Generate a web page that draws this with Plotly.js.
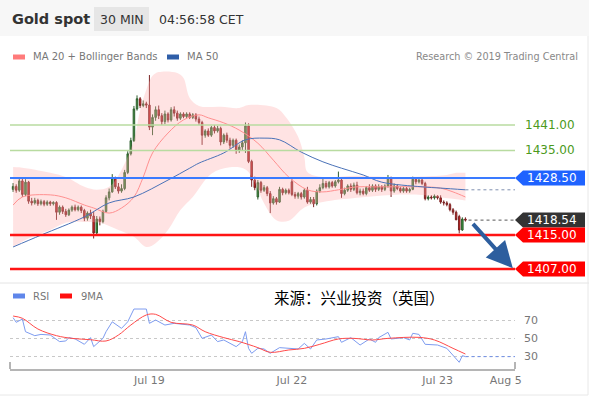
<!DOCTYPE html>
<html><head><meta charset="utf-8">
<script src="https://cdn.plot.ly/plotly-3.0.1.min.js"></script>
<style>html,body{margin:0;padding:0;background:#fff;}#chart{width:589px;height:396px;}</style>
</head><body><div id="chart"></div>
<script>
const W = 589, H = 396;

// ---- candle data (30 min, index positions) ----
const open  = [1425.8,1426.5,1425.6,1427.8,1424.6,1427.5,1423.0,1422.6,1423.2,1422.4,1422.9,1422.3,1422.8,1422.4,1422.7,1420.4,1421.6,1420.6,1419.8,1420.9,1421.6,1421.0,1421.6,1420.8,1419.0,1420.2,1419.5,1415.5,1418.8,1418.2,1420.6,1423.8,1425.2,1428.5,1426.4,1425.4,1426.0,1429.8,1434.2,1437.3,1444.8,1447.2,1445.6,1446.0,1445.7,1440.5,1442.8,1444.6,1443.2,1441.8,1443.6,1442.2,1444.6,1443.8,1442.6,1443.6,1443.0,1443.6,1442.8,1443.4,1442.4,1441.6,1438.6,1439.6,1438.6,1440.4,1439.6,1440.2,1437.0,1438.6,1437.4,1436.2,1437.4,1435.0,1435.8,1436.8,1440.8,1432.4,1428.0,1424.0,1427.4,1425.6,1426.2,1424.8,1422.6,1423.6,1422.8,1425.8,1425.0,1425.6,1427.6,1424.6,1424.2,1424.8,1424.0,1425.6,1422.8,1423.4,1422.4,1425.4,1426.2,1427.2,1426.4,1427.4,1426.6,1427.6,1428.0,1424.8,1425.6,1426.6,1425.8,1426.8,1425.0,1425.4,1424.8,1426.2,1425.6,1426.6,1425.8,1426.4,1425.8,1426.6,1428.6,1425.4,1426.6,1426.0,1425.4,1426.0,1425.4,1425.8,1428.2,1427.6,1428.0,1427.2,1423.6,1424.0,1423.8,1424.2,1423.8,1422.8,1422.6,1422.2,1421.0,1420.4,1419.4,1416.2,1418.8];
const high  = [1427.3,1427.0,1428.3,1428.3,1428.2,1427.8,1423.8,1423.8,1423.6,1423.4,1423.3,1423.2,1423.1,1423.0,1423.0,1422.0,1422.0,1421.2,1421.3,1422.0,1422.2,1422.0,1422.0,1421.2,1420.6,1421.0,1420.5,1419.5,1419.4,1421.0,1424.4,1426.0,1429.4,1428.8,1427.3,1427.0,1430.4,1434.8,1438.0,1445.5,1448.0,1447.6,1446.8,1446.5,1452.8,1443.5,1445.4,1445.6,1443.8,1444.4,1444.0,1445.2,1445.4,1444.4,1444.0,1444.0,1444.0,1444.0,1443.8,1443.8,1443.0,1442.0,1440.0,1440.2,1440.8,1441.0,1440.8,1440.6,1439.0,1439.2,1438.0,1437.8,1437.8,1436.4,1437.4,1441.6,1441.4,1432.8,1428.8,1428.0,1427.8,1426.8,1426.6,1425.4,1424.2,1424.0,1426.4,1426.2,1426.0,1426.0,1428.2,1425.2,1425.2,1425.2,1426.0,1426.4,1424.0,1424.0,1425.8,1427.0,1428.6,1427.8,1427.8,1427.8,1428.0,1430.0,1428.4,1426.2,1427.0,1427.2,1427.4,1427.6,1426.0,1426.0,1426.6,1427.0,1427.0,1427.0,1427.0,1426.8,1427.0,1429.2,1428.8,1427.2,1427.0,1426.4,1426.4,1426.4,1426.2,1428.8,1428.6,1428.4,1428.4,1427.6,1424.4,1424.4,1424.6,1424.4,1424.4,1423.2,1423.0,1422.6,1421.4,1420.8,1419.8,1419.2,1419.2];
const low   = [1425.2,1425.0,1425.2,1424.0,1424.2,1422.4,1422.0,1422.2,1421.9,1422.0,1421.8,1421.9,1421.9,1422.0,1418.6,1419.8,1420.0,1419.3,1419.5,1420.5,1420.6,1420.6,1420.2,1418.3,1418.4,1418.8,1414.2,1415.0,1417.3,1417.8,1420.3,1423.2,1425.0,1425.9,1424.8,1425.0,1425.6,1429.4,1433.8,1437.0,1444.4,1445.0,1445.2,1445.0,1439.8,1438.6,1442.0,1442.4,1441.0,1441.2,1441.6,1441.8,1443.0,1442.0,1442.2,1442.6,1442.6,1442.4,1442.4,1441.8,1441.0,1436.3,1438.0,1438.2,1438.2,1439.0,1439.2,1436.2,1436.5,1436.8,1435.4,1435.6,1434.2,1434.4,1435.0,1434.4,1432.0,1426.4,1425.6,1423.4,1425.0,1425.2,1424.2,1420.2,1422.2,1422.2,1422.6,1424.4,1424.6,1424.6,1424.2,1423.6,1423.6,1423.4,1423.6,1422.4,1422.4,1421.6,1422.0,1425.0,1425.8,1426.0,1426.0,1426.2,1426.2,1427.2,1423.8,1424.4,1425.2,1425.2,1425.4,1424.6,1424.4,1424.4,1424.4,1425.2,1425.2,1425.2,1425.4,1425.2,1425.4,1426.2,1424.0,1425.0,1425.6,1425.0,1425.0,1425.0,1425.0,1425.6,1427.0,1427.2,1426.8,1423.2,1423.2,1423.4,1423.4,1423.4,1422.4,1422.0,1421.8,1420.6,1419.8,1419.0,1415.4,1416.0,1418.2];
const close = [1426.5,1425.6,1427.8,1424.6,1427.5,1423.0,1422.6,1423.2,1422.4,1422.9,1422.3,1422.8,1422.4,1422.7,1420.4,1421.6,1420.6,1419.8,1420.9,1421.6,1421.0,1421.6,1420.8,1419.0,1420.2,1419.5,1415.5,1418.8,1418.2,1420.6,1423.8,1425.2,1428.5,1426.4,1425.4,1426.0,1429.8,1434.2,1437.3,1444.8,1447.2,1445.6,1446.0,1445.7,1440.5,1442.8,1444.6,1443.2,1441.8,1443.6,1442.2,1444.6,1443.8,1442.6,1443.6,1443.0,1443.6,1442.8,1443.4,1442.4,1441.6,1438.6,1439.6,1438.6,1440.4,1439.6,1440.2,1437.0,1438.6,1437.4,1436.2,1437.4,1435.0,1435.8,1436.8,1440.8,1432.4,1428.0,1426.2,1427.4,1425.6,1426.2,1424.8,1422.6,1423.6,1422.8,1425.8,1425.0,1425.6,1425.0,1424.6,1424.2,1424.8,1424.0,1425.6,1422.8,1423.4,1422.4,1425.4,1426.2,1427.2,1426.4,1427.4,1426.6,1427.6,1428.0,1424.8,1425.6,1426.6,1425.8,1426.8,1425.0,1425.4,1424.8,1426.2,1425.6,1426.6,1425.8,1426.4,1425.8,1426.6,1428.6,1425.4,1426.6,1426.0,1425.4,1426.0,1425.4,1425.8,1428.2,1427.6,1428.0,1427.2,1423.6,1424.0,1423.8,1424.2,1423.8,1422.8,1422.6,1422.2,1421.0,1420.4,1418.6,1416.2,1418.8,1418.54];

// ---- indicators (index, value) ----
const ma20Idx = [0,3,12,17,23,26,31,35,39,42,45,50,55,60,63,68,73,79,84,89,95,100,105,111,116,122,132,138,142,146];
const ma20Val = [1422.1,1424.0,1424.5,1423.8,1422.1,1421.4,1420.2,1421.4,1424.0,1428.7,1434.4,1439.1,1442.2,1443.4,1442.7,1441.5,1439.8,1436.7,1432.7,1428.7,1425.7,1425.2,1425.7,1426.4,1426.4,1426.4,1426.4,1426.1,1425.2,1424.0];
const ma50Idx = [0,9,23,31,39,50,57,60,68,75,81,86,93,100,106,113,119,132,138,146];
const ma50Val = [1412.2,1415.0,1419.3,1422.6,1424.0,1428.0,1430.8,1432.0,1434.4,1437.5,1437.9,1437.5,1434.6,1432.3,1430.8,1429.2,1427.5,1426.4,1426.1,1425.7];
const bbUpIdx = [0,2,12,17,23,27,31,35,39,41,43,45,47,53,55,57,60,67,73,76,85,88,92,94,95,100,111,122,140,143,146];
const bbUpVal = [1431.1,1431.0,1429.7,1428.7,1426.4,1425.7,1426.4,1430.4,1437.5,1444.5,1449.3,1452.6,1453.5,1453.3,1452.1,1447.4,1445.5,1445.3,1445.0,1445.7,1445.0,1442.9,1438.2,1433.4,1429.9,1428.7,1429.0,1428.7,1429.2,1429.7,1429.7];
const bbLoIdx = [0,6,12,17,23,28,34,39,43,46,50,54,58,64,70,75,78,81,85,89,94,100,111,122,132,139,146];
const bbLoVal = [1412.2,1414.6,1416.2,1417.9,1418.1,1417.9,1416.2,1414.6,1412.2,1413.1,1416.2,1420.9,1424.0,1429.5,1431.0,1430.5,1427.5,1422.5,1418.5,1418.4,1421.5,1422.8,1423.8,1424.5,1424.5,1423.8,1423.2];

const rsiIdx = [0,1,3,4,7,9,12,15,17,18,20,23,25,26,29,30,32,35,37,39,43,44,46,49,52,57,59,61,64,66,68,72,74,75,76,77,79,81,83,86,92,94,96,98,101,105,106,109,112,115,117,118,121,122,126,128,129,131,133,137,140,142,144,145,146];
const rsiVal = [72.6,67.4,71,57,52.6,54,53.3,46,46.7,50.4,49,43,50.4,40.4,49.6,57,68,60.7,68,82.2,82.2,66.3,70,64.4,66.3,64.4,61.5,49.6,53.3,46,47.8,40.4,46,57,38.5,33,38.5,37.8,33,39.3,37.8,44,37.8,47.8,48.9,51.5,45.2,50.4,42.2,48.9,45.2,50.4,56.3,48.9,50.4,47.8,55.2,54,43,42.2,38.5,31.1,23,30.4,29.3];
const rsiMaIdx = [0,3,8,14,19,25,30,34,38,43,46,51,58,62,68,73,79,83,89,94,99,105,110,116,121,131,136,142,146];
const rsiMaVal = [74.4,71.9,60,52.6,49.6,48.1,46.7,53.3,64.4,75.6,76.3,67.4,64.4,57,50.4,46,39.3,34.1,36.7,38.5,43,48.9,49.6,47.8,49.6,50.7,47.8,38.5,32.2];
const rsiLevels = [30, 50, 70];

// ---- axis labels & levels ----
const tickIdx = [44, 90, 137, 159];
const tickText = ['Jul 19', 'Jul 22', 'Jul 23', 'Aug 5'];
const greenLevels = [1441.00, 1435.00];
const blueLevel = 1428.50;
const lastPrice = 1418.54;
const redLevels = [1415.00, 1407.00];
const arrowFrom = [148, 1418.0];
const arrowTo = [161.3, 1407.2];

// ---- layout helpers ----
const X0 = 10, X1 = 515;
const MAIN_TOP = 65, MAIN_BOT = 280;
const RSI_TOP = 305, RSI_BOT = 369;
const px = v => v / W;
const py = v => 1 - v / H;
const yRangeMain = [1441 - (MAIN_BOT - 125) / 4.235, 1441 + (125 - MAIN_TOP) / 4.235];
const yRangeRsi = [30 - (RSI_BOT - 356) / 0.9, 70 + (320 - RSI_TOP) / 0.9];
const xIdx = close.map((_, i) => i);
const lastI = close.length - 1;
const FONT = 'DejaVu Sans, Verdana, sans-serif';

const traces = [
  {x: bbUpIdx, y: bbUpVal, type: 'scatter', mode: 'lines', line: {width: 0, shape: 'spline'}, hoverinfo: 'skip', xaxis: 'x', yaxis: 'y'},
  {x: bbLoIdx, y: bbLoVal, type: 'scatter', mode: 'lines', line: {width: 0, shape: 'spline'}, fill: 'tonexty', fillcolor: 'rgba(255,170,170,0.33)', hoverinfo: 'skip', xaxis: 'x', yaxis: 'y'},
  {x: ma20Idx, y: ma20Val, type: 'scatter', mode: 'lines', line: {color: '#ff9090', width: 1, shape: 'spline'}, xaxis: 'x', yaxis: 'y'},
  {x: ma50Idx, y: ma50Val, type: 'scatter', mode: 'lines', line: {color: '#4a72b8', width: 1, shape: 'spline'}, xaxis: 'x', yaxis: 'y'},
  {x: [lastI, 162], y: [ma50Val[ma50Val.length - 1], ma50Val[ma50Val.length - 1]], type: 'scatter', mode: 'lines', line: {color: '#7f8fb0', width: 1, dash: 'dot'}, xaxis: 'x', yaxis: 'y'},
  {x: [lastI + 1, 162], y: [lastPrice, lastPrice], type: 'scatter', mode: 'lines', line: {color: '#555', width: 1, dash: 'dot'}, xaxis: 'x', yaxis: 'y'},
  {x: xIdx, open: open, high: high, low: low, close: close, type: 'candlestick', xaxis: 'x', yaxis: 'y',
   whiskerwidth: 0,
   increasing: {line: {color: '#2f5f2f', width: 1}, fillcolor: '#3c9a3c'},
   decreasing: {line: {color: '#7a2424', width: 1}, fillcolor: '#dd2020'}},
  {x: rsiIdx, y: rsiVal, type: 'scatter', mode: 'lines', line: {color: '#7e9cf0', width: 1}, xaxis: 'x', yaxis: 'y2'},
  {x: rsiMaIdx, y: rsiMaVal, type: 'scatter', mode: 'lines', line: {color: '#ff4a4a', width: 1, shape: 'spline'}, xaxis: 'x', yaxis: 'y2'},
  {x: [lastI, 162], y: [rsiVal[rsiVal.length - 1], rsiVal[rsiVal.length - 1]], type: 'scatter', mode: 'lines', line: {color: '#6f8fe8', width: 1, dash: 'dot'}, xaxis: 'x', yaxis: 'y2'}
];

const shapes = [];
const annotations = [];

// header
shapes.push({type: 'rect', xref: 'paper', yref: 'paper', x0: 0, x1: 1, y0: py(36), y1: 1, fillcolor: '#f7f7f7', line: {width: 0}, layer: 'below'});
shapes.push({type: 'rect', xref: 'paper', yref: 'paper', x0: px(94), x1: px(149), y0: py(31), y1: py(7), fillcolor: '#e6e6e6', line: {width: 0}, layer: 'below'});
annotations.push({xref: 'paper', yref: 'paper', x: px(10), y: py(19), xanchor: 'left', yanchor: 'middle', text: '<b>Gold spot</b>', showarrow: false, font: {family: FONT, size: 14.5, color: '#333'}});
annotations.push({xref: 'paper', yref: 'paper', x: px(121.5), y: py(19), xanchor: 'center', yanchor: 'middle', text: '30 MIN', showarrow: false, font: {family: FONT, size: 12.5, color: '#333'}});
annotations.push({xref: 'paper', yref: 'paper', x: px(157), y: py(19), xanchor: 'left', yanchor: 'middle', text: '04:56:58 CET', showarrow: false, font: {family: FONT, size: 12.5, color: '#333'}});

// legends
function swatch(x, y, color) {
  shapes.push({type: 'rect', xref: 'paper', yref: 'paper', x0: px(x), x1: px(x + 12), y0: py(y + 2.5), y1: py(y - 2.5), fillcolor: color, line: {width: 0}});
}
function legText(x, y, t) {
  annotations.push({xref: 'paper', yref: 'paper', x: px(x), y: py(y), xanchor: 'left', yanchor: 'middle', text: t, showarrow: false, font: {family: FONT, size: 10, color: '#777'}});
}
swatch(13, 57, '#ff7b7b'); legText(31, 57, 'MA 20 + Bollinger Bands');
swatch(167, 57, '#2f5ea8'); legText(185, 57, 'MA 50');
annotations.push({xref: 'paper', yref: 'paper', x: px(580), y: py(57), xanchor: 'right', yanchor: 'middle', text: 'Research © 2019 Trading Central', showarrow: false, font: {family: FONT, size: 9.7, color: '#888'}});
swatch(13, 296, '#5f86ea'); legText(31, 296, 'RSI');
swatch(60, 296, '#ff1010'); legText(79, 296, '9MA');
annotations.push({xref: 'paper', yref: 'paper', x: px(272), y: py(297), xanchor: 'left', yanchor: 'middle', text: '来源：兴业投资（英国）', showarrow: false, font: {family: 'Noto Sans CJK SC, sans-serif', size: 15.5, color: '#000'}});

// separators / borders
shapes.push({type: 'line', xref: 'paper', yref: 'paper', x0: 0, x1: 1, y0: py(283), y1: py(283), line: {color: '#e4e4e4', width: 1}});
shapes.push({type: 'line', xref: 'paper', yref: 'paper', x0: px(588), x1: px(588), y0: py(36), y1: py(395), line: {color: '#e8e8e8', width: 1}});
shapes.push({type: 'line', xref: 'paper', yref: 'paper', x0: 0, x1: px(588), y0: py(395), y1: py(395), line: {color: '#e8e8e8', width: 1}});

// x axis end ticks
[X0, X1].forEach(x => shapes.push({type: 'line', xref: 'paper', yref: 'paper', x0: px(x), x1: px(x), y0: py(RSI_BOT), y1: py(RSI_BOT - 7), line: {color: '#b5b5b5', width: 2}}));

// price levels
function levelLine(v, color, width) {
  shapes.push({type: 'line', xref: 'paper', yref: 'y', x0: px(X0), x1: px(X1), y0: v, y1: v, line: {color: color, width: width}});
}
function tagBox(v, color) {
  const h = 7.5 / 4.235;
  const a = px(X1), b = px(X1 + 8), c = px(585);
  shapes.push({type: 'path', xref: 'paper', yref: 'y',
    path: `M ${a},${v} L ${b},${v + h} L ${c},${v + h} L ${c},${v - h} L ${b},${v - h} Z`,
    fillcolor: color, line: {width: 0}});
  annotations.push({xref: 'paper', yref: 'y', x: px(552), y: v, xanchor: 'center', yanchor: 'middle', text: v.toFixed(2), showarrow: false, font: {family: FONT, size: 12, color: '#fff'}});
}
greenLevels.forEach(v => {
  levelLine(v, '#b8dba0', 1.5);
  annotations.push({xref: 'paper', yref: 'y', x: px(523), y: v, xanchor: 'left', yanchor: 'middle', text: v.toFixed(2), showarrow: false, font: {family: FONT, size: 12, color: '#4c9a1c'}});
});
levelLine(blueLevel, '#3a7bff', 2);
tagBox(blueLevel, '#1f63ff');
tagBox(lastPrice, '#333333');
redLevels.forEach(v => { levelLine(v, '#ff1414', 2.5); tagBox(v, '#ff0000'); });

// trend arrow
annotations.push({xref: 'x', yref: 'y', axref: 'x', ayref: 'y', x: arrowTo[0], y: arrowTo[1], ax: arrowFrom[0], ay: arrowFrom[1], text: '', showarrow: true, arrowhead: 2, arrowsize: 1.3, arrowwidth: 4, arrowcolor: '#2d5e9e'});

const layout = {
  width: W, height: H,
  margin: {l: 0, r: 0, t: 0, b: 0},
  paper_bgcolor: '#fff', plot_bgcolor: 'rgba(0,0,0,0)',
  showlegend: false,
  font: {family: FONT, color: '#777'},
  xaxis: {domain: [px(X0), px(X1)], range: [-1, 162], anchor: 'y2', type: 'linear',
          rangeslider: {visible: false}, showgrid: false, zeroline: false,
          tickmode: 'array', tickvals: tickIdx, ticktext: tickText, ticks: '',
          tickfont: {family: FONT, size: 11, color: '#777'},
          showline: true, linecolor: '#b5b5b5', linewidth: 2},
  yaxis: {domain: [py(MAIN_BOT), py(MAIN_TOP)], range: yRangeMain, showgrid: false, zeroline: false, showticklabels: false, ticks: ''},
  yaxis2: {domain: [py(RSI_BOT), py(RSI_TOP)], range: yRangeRsi, side: 'right', anchor: 'x',
           tickmode: 'array', tickvals: rsiLevels, ticks: '', showgrid: true, gridcolor: '#c8c8c8', griddash: 'dot', gridwidth: 1,
           zeroline: false, tickfont: {family: FONT, size: 11, color: '#777'}, ticklabelstandoff: 8},
  shapes: shapes,
  annotations: annotations
};

Plotly.newPlot('chart', traces, layout, {staticPlot: true, displayModeBar: false});
</script>
</body></html>
